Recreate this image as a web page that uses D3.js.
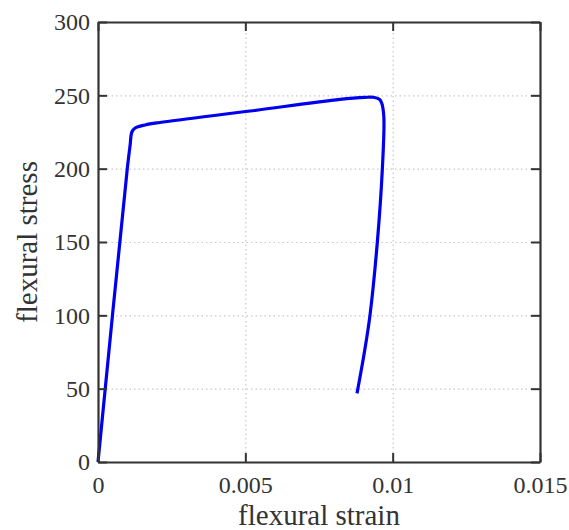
<!DOCTYPE html>
<html>
<head>
<meta charset="utf-8">
<script src="https://cdn.jsdelivr.net/npm/d3@7"></script>
<style>
  body { margin: 0; background: #fff; }
  svg text { font-family: "Liberation Serif", "DejaVu Serif", serif; fill: #333; }
</style>
</head>
<body>
<div id="chart"></div>
<script>
// stress-strain curve
const strain = [0, 0.000994, 0.00109, 0.00115, 0.00126, 0.0016, 0.0021, 0.00516, 0.00821,
    0.00906, 0.00934, 0.00955, 0.00963, 0.0097, 0.00965, 0.00948, 0.00923, 0.00904, 0.00879];
const stress = [0, 200, 216, 225, 227.7, 229.8, 231.5, 239.3, 247.2,
    248.6, 248.7, 247.3, 244.6, 235.4, 200, 150, 100, 74.8, 46.8];

const x_ticks = [0, 0.005, 0.01, 0.015];
const x_tick_labels = ["0", "0.005", "0.01", "0.015"];
const y_ticks = [0, 50, 100, 150, 200, 250, 300];

const svg_width = 569, svg_height = 530;
const margin = {left: 98, right: 29, top: 22, bottom: 68};
const width = svg_width - margin.left - margin.right;
const height = svg_height - margin.top - margin.bottom;

const svg = d3.select("#chart").append("svg")
    .attr("width", svg_width)
    .attr("height", svg_height);

const chart = svg.append("g")
    .attr("transform", "translate(" + margin.left + "," + margin.top + ")");

const xScale = d3.scaleLinear().domain([0, 0.015]).range([0, width]);
const yScale = d3.scaleLinear().domain([0, 300]).range([height, 0]);

// dotted grid
chart.append("g")
    .attr("class", "grid")
    .attr("transform", "translate(0," + height + ")")
    .call(d3.axisBottom(xScale).tickValues(x_ticks).tickSize(-height).tickFormat(""));
chart.append("g")
    .attr("class", "grid")
    .call(d3.axisLeft(yScale).tickValues(y_ticks).tickSize(-width).tickFormat(""));
chart.selectAll(".grid .domain").remove();
chart.selectAll(".grid line")
    .attr("stroke", "#c8c8c8")
    .attr("stroke-width", 1.2)
    .attr("stroke-dasharray", "1.5 3");

// the curve
const line = d3.line()
    .x((d, i) => xScale(strain[i]))
    .y((d, i) => yScale(stress[i]))
    .curve(d3.curveCatmullRom.alpha(0.5));

chart.append("path")
    .datum(strain)
    .attr("d", line)
    .attr("fill", "none")
    .attr("stroke", "#0000ee")
    .attr("stroke-width", 3.2)
    .attr("stroke-linejoin", "round");

// axes, ticks pointing inward
const xAxis = d3.axisBottom(xScale).tickValues(x_ticks)
    .tickFormat((d, i) => x_tick_labels[i])
    .tickSizeInner(-9).tickSizeOuter(0).tickPadding(14);
const yAxis = d3.axisLeft(yScale).tickValues(y_ticks)
    .tickSizeInner(-9).tickSizeOuter(0).tickPadding(8);

chart.append("g")
    .attr("class", "axis")
    .attr("transform", "translate(0," + height + ")")
    .call(xAxis);
chart.append("g")
    .attr("class", "axis")
    .call(yAxis);

chart.append("g")
    .attr("class", "axis")
    .call(d3.axisTop(xScale).tickValues(x_ticks).tickSizeInner(-9).tickSizeOuter(0).tickFormat(""));
chart.append("g")
    .attr("class", "axis")
    .attr("transform", "translate(" + width + ",0)")
    .call(d3.axisRight(yScale).tickValues(y_ticks).tickSizeInner(-9).tickSizeOuter(0).tickFormat(""));

chart.selectAll(".axis .domain").attr("stroke", "#333").attr("stroke-width", 2.2);
chart.selectAll(".axis line").attr("stroke", "#333").attr("stroke-width", 2);
chart.selectAll(".axis text")
    .style("font-family", "'Liberation Serif', 'DejaVu Serif', serif")
    .style("font-size", "24px")
    .attr("fill", "#333");

// axis labels
svg.append("text")
    .attr("x", margin.left + width / 2)
    .attr("y", 525)
    .attr("text-anchor", "middle")
    .style("font-size", "29px")
    .text("flexural strain");

svg.append("text")
    .attr("transform", "translate(37," + (margin.top + height / 2) + ") rotate(-90)")
    .attr("text-anchor", "middle")
    .style("font-size", "29px")
    .text("flexural stress");
</script>
</body>
</html>
